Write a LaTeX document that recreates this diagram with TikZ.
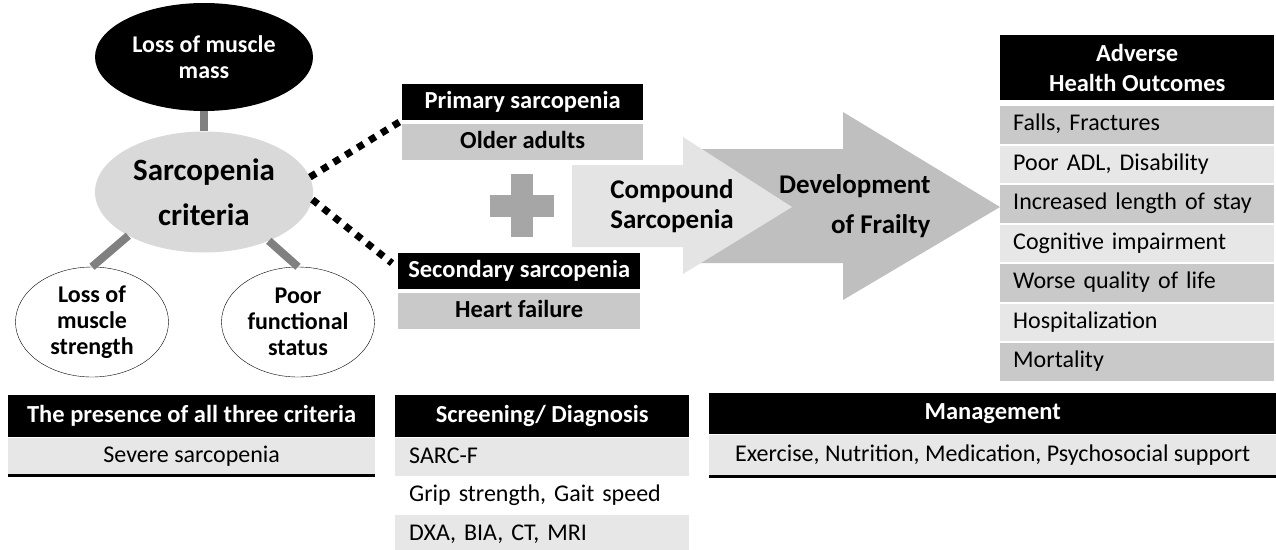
\documentclass[tikz,border=0pt]{standalone}
\usepackage{fontspec}
\setmainfont{Carlito}
\usepackage{tikz}
\usetikzlibrary{shapes,positioning,calc}
\definecolor{rowdark}{HTML}{C9C9C9}
\definecolor{rowlight}{HTML}{E7E7E7}
\definecolor{ellgray}{HTML}{D9D9D9}
\definecolor{linkgray}{HTML}{808080}
\definecolor{arrowlight}{HTML}{E4E4E4}
\definecolor{arrowdark}{HTML}{BFBFBF}
\definecolor{plusgray}{HTML}{A6A6A6}
\newcommand{\tabfont}{\fontsize{24}{28}\selectfont}
\newcommand{\hdrfont}{\fontsize{24.5}{28}\selectfont\bfseries}

\begin{document}
\begin{tikzpicture}[x=1pt, y=-1pt,
    crit/.style={ellipse, inner sep=0pt, align=center, font=\fontsize{24}{26}\selectfont\bfseries},
    link/.style={draw=linkgray, line width=8pt},
    dots/.style={draw=black, line width=7pt, dash pattern=on 7pt off 7pt},
    hdr/.style={rectangle, fill=black, text=white, inner sep=0pt, anchor=north west, align=center, font=\hdrfont},
    cell/.style={rectangle, inner sep=0pt, anchor=north west, font=\tabfont, text height=17pt, text depth=5pt}
]
    \useasboundingbox (0,0) rectangle (1276,549);

    % criteria
    \node[crit, fill=black, text=white, minimum width=218, minimum height=108] (mass) at (204,57) {Loss of muscle\\mass};
    \node[crit, fill=ellgray, minimum width=218, minimum height=121, font=\fontsize{31}{45}\selectfont\bfseries] (sarc) at (204,192) {Sarcopenia\\criteria};
    \node[crit, draw=black, thin, fill=white, minimum width=153, minimum height=110] (strength) at (92,322) {Loss of\\muscle\\strength};
    \node[crit, draw=black, thin, fill=white, minimum width=153, minimum height=110] (status) at (298,322) {Poor\\functional\\status};

    \draw[link] (mass) -- (sarc);
    \draw[link] (sarc.210) -- (strength.north);
    \draw[link] (sarc.-37) -- (status.north);

    % primary / secondary
    \node[hdr, minimum width=241, minimum height=36] (prim) at (402,84) {Primary sarcopenia};
    \node[cell, fill=rowdark, font=\hdrfont, minimum width=241, minimum height=36] (older) at (402,124) {Older adults};
    \node[hdr, minimum width=242, minimum height=36] (sec) at (398,253) {Secondary sarcopenia};
    \node[cell, fill=rowdark, font=\hdrfont, minimum width=242, minimum height=36] (heart) at (398,293) {Heart failure};

    \draw[dots] (sarc.8) -- (prim.south west);
    \draw[dots] (sarc.-4) -- ([shift={(-6,-8)}]sec.west);

    \fill[plusgray] (511,174) rectangle (533,237);
    \fill[plusgray] (490,195) rectangle (554,217);

    % arrows
    \fill[arrowdark] (690,149) -- (843,149) -- (843,112) -- (1000,207) -- (843,300) -- (843,263) -- (690,263) -- cycle;
    \fill[arrowlight] (572,165) -- (683,165) -- (683,137) -- (792,207) -- (683,274) -- (683,247) -- (572,247) -- cycle;
    \node[align=left, font=\fontsize{27}{30}\selectfont\bfseries] (comp) at (672,206) {Compound\\Sarcopenia};
    \node[align=right, anchor=east, font=\fontsize{27}{40}\selectfont\bfseries] (frail) at (934,206) {Development\\of Frailty};

    % outcomes
    \node[hdr, minimum width=274, minimum height=65, font=\fontsize{24.5}{30}\selectfont\bfseries] (adv) at (1000,35) {Adverse\\Health Outcomes};
    \foreach \txt/\col [count=\i] in {{Falls, Fractures}/rowdark, {Poor ADL, Disability}/rowlight,
        {Increased length of stay}/rowdark, {Cognitive impairment}/rowlight,
        {Worse quality of life}/rowdark, {Hospitalization}/rowlight, {Mortality}/rowdark}
        \node[cell, fill=\col, minimum width=274, minimum height=37.5, text width=248, inner xsep=13, align=left] (out\i) at (1000,{106+(\i-1)*39.5}) {\txt};

    % bottom tables
    \node[hdr, minimum width=367, minimum height=42] (pres) at (8,395) {The presence of all three criteria};
    \node[cell, fill=rowlight, minimum width=367, minimum height=37] (sev) at (8,438) {Severe sarcopenia};
    \draw[line width=2.5pt] (sev.south west) -- (sev.south east);

    \node[hdr, minimum width=294, minimum height=42] (scr) at (395,395) {Screening/ Diagnosis};
    \node[cell, fill=rowlight, minimum width=294, minimum height=38, text width=266, inner xsep=14, align=left] (sarcf) at (395,438) {SARC-F};
    \node[cell, minimum width=294, minimum height=38, text width=266, inner xsep=14, align=left] (grip) at (395,476) {Grip strength, Gait speed};
    \node[cell, fill=rowlight, minimum width=294, minimum height=38, text width=266, inner xsep=14, align=left] (dxa) at (395,515) {DXA, BIA, CT, MRI};

    \node[hdr, minimum width=567, minimum height=41] (man) at (709,393) {Management};
    \node[cell, fill=rowlight, minimum width=567, minimum height=41] (ther) at (709,435) {Exercise, Nutrition, Medication, Psychosocial support};
    \draw[line width=2.5pt] (ther.south west) -- (ther.south east);
\end{tikzpicture}
\end{document}
